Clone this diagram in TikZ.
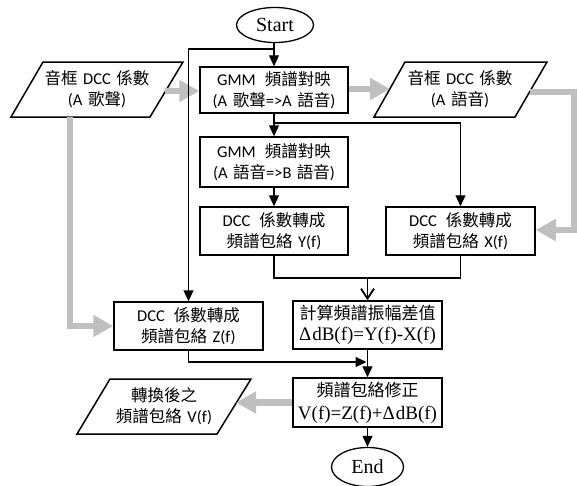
\documentclass[tikz,border=0pt]{standalone}
\usepackage{fontspec}
\usetikzlibrary{arrows.meta,shapes.geometric}
\newfontfamily\zhfont{Noto Sans CJK TC}
\newfontfamily\latfont{Carlito}
\newfontfamily\serfont{Liberation Serif}
\newcommand\zh[1]{{\zhfont #1}}
% word gaps between Latin and CJK runs
\newcommand\gap{\hspace{5.5pt}}
\newcommand\wgap{\hspace{9pt}}
\tikzset{
  box/.style={draw, line width=1.5pt, rectangle, inner sep=0pt, align=center,
    minimum width=148pt, font=\latfont\fontsize{16.5}{21}\selectfont},
  mathbox/.style={box, font=\serfont\fontsize{19}{22}\selectfont},
  term/.style={draw, line width=1.3pt, ellipse, inner sep=0pt,
    font=\serfont\fontsize{20}{22}\selectfont},
  ptext/.style={inner sep=0pt, align=center, font=\latfont\fontsize{16.5}{21}\selectfont},
  pshape/.style={draw, line width=1.5pt, line join=miter},
  flow/.style={draw, line width=1.2pt, -{Triangle[width=10pt,length=11pt]}},
  mergeline/.style={draw, line width=1.2pt},
  openflow/.style={draw, line width=1.2pt, -{Straight Barb[width=13pt,length=10pt,line width=1.8pt]}},
  gflow/.style={draw, color=black!25, line width=6.5pt, line join=miter,
    -{Triangle[width=21pt,length=20pt]}},
}
\begin{document}
\begin{tikzpicture}[x=1pt,y=-1pt]
\useasboundingbox (0,0) rectangle (577,485);

% terminals
\node[term, minimum width=77pt, minimum height=35pt] (start) at (275,25) {Start};
\node[term, minimum width=72pt, minimum height=39pt] (end) at (367.5,467) {End};

% process boxes
\node[box, minimum height=46pt] (gmm1) at (274,90)
  {GMM\wgap\zh{頻譜對映}\\(A\gap\zh{歌聲}=>A\gap\zh{語音})};
\node[box, minimum height=50pt] (gmm2) at (274,162)
  {GMM\wgap\zh{頻譜對映}\\(A\gap\zh{語音}=>B\gap\zh{語音})};
\node[box, minimum height=48pt] (ybox) at (274,231)
  {DCC\wgap\zh{係數轉成}\\\zh{頻譜包絡}\gap Y(f)};
\node[box, minimum width=149pt, minimum height=48pt] (xbox) at (460.5,231)
  {DCC\wgap\zh{係數轉成}\\\zh{頻譜包絡}\gap X(f)};
\node[box, minimum width=149pt, minimum height=48pt] (zbox) at (188.5,326)
  {DCC\wgap\zh{係數轉成}\\\zh{頻譜包絡}\gap Z(f)};
\node[mathbox, minimum width=149pt, minimum height=48pt] (calc) at (367.5,325)
  {{\zhfont\fontsize{17}{21}\selectfont 計算頻譜振幅差值}\\[-1pt]Δ\kern1pt dB(f)=Y(f)-X(f)};
\node[mathbox, minimum width=149pt, minimum height=49pt] (fix) at (367.5,402.5)
  {{\zhfont\fontsize{17}{21}\selectfont 頻譜包絡修正}\\[1pt]V(f)=Z(f)+Δ\kern1pt dB(f)};

% input / output parallelograms
\draw[pshape] (43,62) -- (183,62) -- (150,117) -- (11,117) -- cycle;
\node[ptext] (inA) at (97,89.5) {\zh{音框}\gap DCC\gap\zh{係數}\\(A\gap\zh{歌聲})};
\draw[pshape] (405,62) -- (547,62) -- (515,117) -- (374,117) -- cycle;
\node[ptext] (inB) at (460,89.5) {\zh{音框}\gap DCC\gap\zh{係數}\\(A\gap\zh{語音})};
\draw[pshape] (110,379) -- (251,379) -- (217,434) -- (77,434) -- cycle;
\node[ptext] (outV) at (164,406.5) {\zh{轉換後之}\\\zh{頻譜包絡}\gap V(f)};

% points on the slanted edges and bends
\coordinate (inAr) at (165,91);
\coordinate (inAb) at (70,117);
\coordinate (inBl) at (390,89);
\coordinate (inBr) at (530,92);
\coordinate (g1) at (574,92);
\coordinate (g2) at (574,230);
\coordinate (outVr) at (236,402.5);
\coordinate (b1) at (274,49);
\coordinate (b2) at (274,123);
\coordinate (j1) at (367.5,278);
\coordinate (j2) at (366.5,362);

% data flow (gray)
\draw[gflow] (inAr) -- (inAr -| gmm1.west);
\draw[gflow] (inAb) |- (zbox.west);
\draw[gflow] (gmm1.east |- inBl) -- (inBl);
\draw[gflow] (inBr) -- (g1) -- (g2) -- (g2 -| xbox.east);
\draw[gflow] (fix.west) -- (outVr);

% control flow (black)
\draw[flow] (start.south -| gmm1.north) -- (gmm1);
\draw[flow] (b1) -| (zbox.north);
\draw[flow] (gmm1) -- (gmm2);
\draw[flow] (b2) -| (xbox.north);
\draw[flow] (gmm2) -- (ybox);
\draw[mergeline] (ybox.south) |- (xbox.south |- j1) -- (xbox.south);
\draw[openflow] (j1) -- (calc.north);
\draw[flow] (zbox.south) |- (j2);
\draw[flow] (calc) -- (fix);
\draw[flow] (fix) -- (end);
\end{tikzpicture}
\end{document}
